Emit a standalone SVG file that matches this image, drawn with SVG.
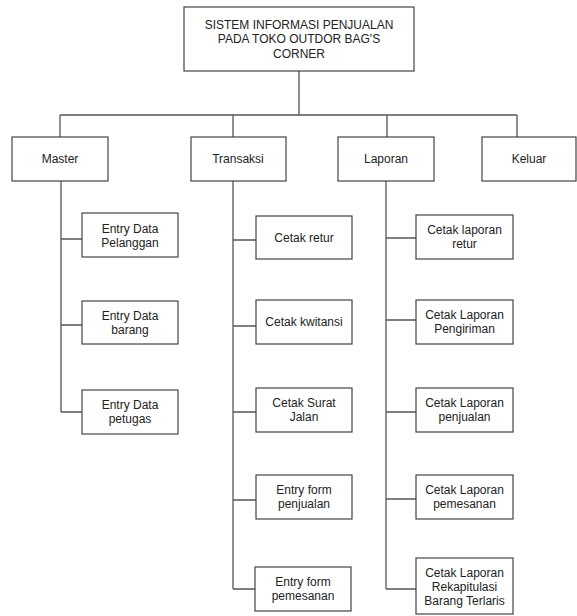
<svg xmlns="http://www.w3.org/2000/svg" width="577" height="616" viewBox="0 0 577 616">
<style>
.b{fill:#fff;stroke:#444;stroke-width:1.2}
.l{fill:none;stroke:#555;stroke-width:1.3}
text{font-family:"Liberation Sans",Arial,sans-serif;font-size:12px;fill:#222;text-anchor:middle}
</style>
<rect width="577" height="616" fill="#fff"/>
<g id="connectors" class="l">
<path d="M299 71V115M60 115H517M60 115V137M233 115V137M387 115V137M517 115V137"/>
<path d="M61 181V412M61 239H82M61 325H82M61 412H82"/>
<path d="M233 181V589M233 240H256M233 326H256M233 412H256M233 500H256M233 589H256"/>
<path d="M386 181V589M386 238H416M386 320H416M386 412H416M386 499H416M386 589H416"/>
</g>
<g id="root"><rect class="b" x="184" y="7" width="230" height="64"/>
<text x="299" y="29">SISTEM INFORMASI PENJUALAN</text><text x="299" y="43.3">PADA TOKO OUTDOR BAG'S</text><text x="299" y="57.6">CORNER</text></g>
<g id="master"><rect class="b" x="12" y="137" width="96" height="44"/><text x="60" y="163">Master</text></g>
<g id="transaksi"><rect class="b" x="191" y="137" width="95" height="44"/><text x="238" y="163">Transaksi</text></g>
<g id="laporan"><rect class="b" x="338" y="137" width="96" height="44"/><text x="386" y="163">Laporan</text></g>
<g id="keluar"><rect class="b" x="482" y="137" width="94" height="44"/><text x="529" y="163">Keluar</text></g>

<g id="m1"><rect class="b" x="82" y="213" width="96" height="44"/><text x="130" y="233">Entry Data</text><text x="130" y="247">Pelanggan</text></g>
<g id="m2"><rect class="b" x="82" y="301" width="96" height="43"/><text x="130" y="320">Entry Data</text><text x="130" y="334">barang</text></g>
<g id="m3"><rect class="b" x="82" y="390" width="96" height="44"/><text x="130" y="409">Entry Data</text><text x="130" y="423">petugas</text></g>

<g id="t1"><rect class="b" x="256" y="216" width="96" height="43"/><text x="304" y="242">Cetak retur</text></g>
<g id="t2"><rect class="b" x="256" y="300" width="96" height="44"/><text x="304" y="326">Cetak kwitansi</text></g>
<g id="t3"><rect class="b" x="256" y="388" width="96" height="44"/><text x="304" y="407">Cetak Surat</text><text x="304" y="421">Jalan</text></g>
<g id="t4"><rect class="b" x="256" y="475" width="96" height="44"/><text x="304" y="494">Entry form</text><text x="304" y="508">penjualan</text></g>
<g id="t5"><rect class="b" x="255" y="567" width="96" height="44"/><text x="303" y="586">Entry form</text><text x="303" y="600">pemesanan</text></g>

<g id="l1"><rect class="b" x="416" y="215" width="97" height="44"/><text x="464.5" y="234">Cetak laporan</text><text x="464.5" y="248">retur</text></g>
<g id="l2"><rect class="b" x="416" y="300" width="97" height="44"/><text x="464.5" y="319">Cetak Laporan</text><text x="464.5" y="333">Pengiriman</text></g>
<g id="l3"><rect class="b" x="416" y="388" width="97" height="44"/><text x="464.5" y="407">Cetak Laporan</text><text x="464.5" y="421">penjualan</text></g>
<g id="l4"><rect class="b" x="416" y="475" width="97" height="44"/><text x="464.5" y="494">Cetak Laporan</text><text x="464.5" y="508">pemesanan</text></g>
<g id="l5"><rect class="b" x="416" y="558" width="97" height="56"/><text x="464.5" y="577">Cetak Laporan</text><text x="464.5" y="591">Rekapitulasi</text><text x="464.5" y="605">Barang Terlaris</text></g>
</svg>
